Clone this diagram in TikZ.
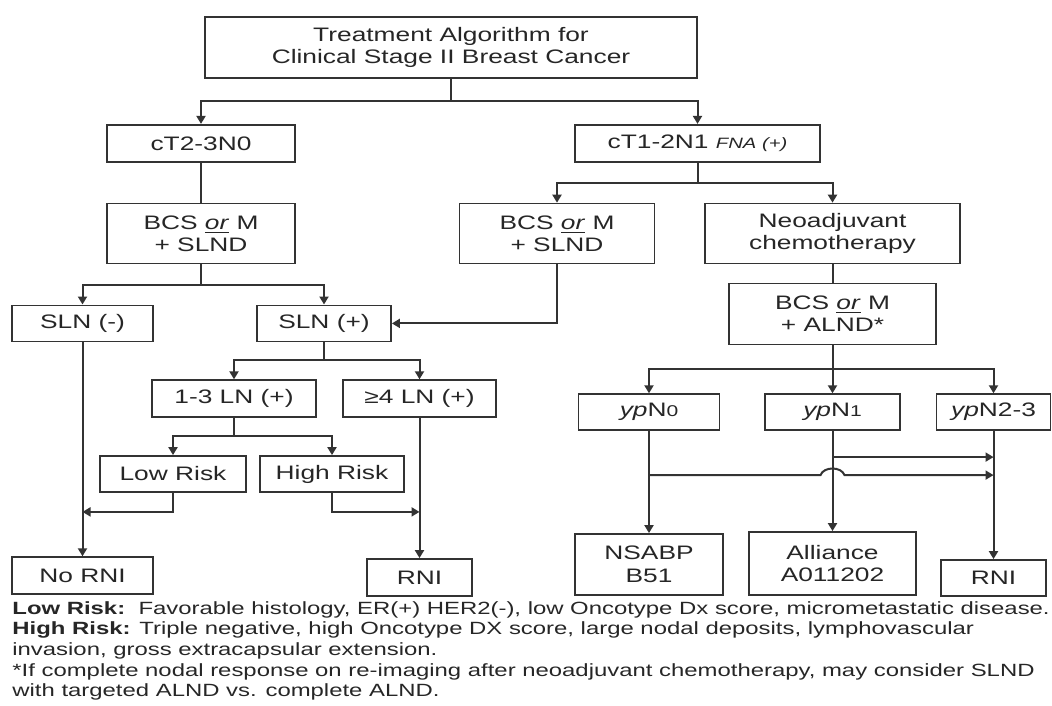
\documentclass[tikz,border=0pt]{standalone}
\usepackage{fontspec}
\setmainfont{Liberation Sans}[FakeStretch=1.35]
\usetikzlibrary{arrows.meta, positioning, calc}
\newcommand{\orul}{\underline{\textit{or}}}
\newcommand{\ypdig}[1]{{\fontsize{7.8}{9}\selectfont #1}}

\begin{document}
\begin{tikzpicture}[
    x=0.5pt, y=0.5pt,
    box/.style={rectangle, draw=black!80, line width=0.9pt, align=center,
                inner sep=1pt, text=black!85,
                font=\fontsize{9.75}{11.25}\selectfont},
    line/.style={line width=1pt, black!80},
    arr/.style={-{Triangle[length=4pt, width=4.5pt]}, line width=1pt, black!80},
    note/.style={align=left, anchor=north west, inner sep=0pt, text=black!85,
                 font=\fontsize{8.85}{10.3}\selectfont}
  ]
  \useasboundingbox (0,0) rectangle (1052,-705);

  \node[box, minimum width=246pt, minimum height=30.5pt] (title) at (451,-47.5)
       {Treatment Algorithm for\\Clinical Stage II Breast Cancer};

  % left branch
  \node[box, minimum width=94pt, minimum height=18.5pt, below=22.5pt of title, xshift=-125pt] (ct23) {cT2-3N0};
  \node[box, minimum width=94pt, minimum height=30pt, below=20pt of ct23] (bcs1) {BCS \orul{} M\\+ SLND};
  \node[box, minimum width=70.5pt, minimum height=18pt, below=20pt of bcs1, xshift=-59.25pt] (slnneg) {SLN (-)};
  \node[box, minimum width=67pt, minimum height=18pt, below=20pt of bcs1, xshift=61.5pt] (slnpos) {SLN (+)};
  \node[box, minimum width=82pt, minimum height=18.5pt, below=18.5pt of slnpos, xshift=-45pt] (ln13) {1-3 LN (+)};
  \node[box, minimum width=76.5pt, minimum height=18.5pt, below=18.5pt of slnpos, xshift=47.75pt] (ln4) {≥4 LN (+)};
  \node[box, minimum width=73pt, minimum height=18pt, below=18.5pt of ln13, xshift=-30.5pt] (low) {Low Risk};
  \node[box, minimum width=72pt, minimum height=18pt, below=18.5pt of ln13, xshift=49pt] (high) {High Risk};
  \node[box, minimum width=70.5pt, minimum height=18.5pt, below=107pt of slnneg] (nornj) {No RNI};
  \node[box, minimum width=52.5pt, minimum height=18.5pt, below=70pt of ln4] (rni1) {RNI};

  % right branch
  \node[box, minimum width=122.5pt, minimum height=18.5pt, below=22.5pt of title, xshift=123.25pt] (ct12)
       {cT1-2N1 {\fontsize{7.5}{9}\selectfont\itshape FNA (+)}};
  \node[box, minimum width=97.5pt, minimum height=30pt, below=20pt of ct12, xshift=-70.25pt] (bcs2) {BCS \orul{} M\\+ SLND};
  \node[box, minimum width=127.5pt, minimum height=30pt, below=20pt of ct12, xshift=67.5pt] (neo) {Neoadjuvant\\chemotherapy};
  \node[box, minimum width=103.5pt, minimum height=30.5pt, below=9pt of neo] (bcs3) {BCS \orul{} M\\+ ALND*};
  \node[box, minimum width=70.5pt, minimum height=18pt, below=24pt of bcs3, xshift=-91.75pt] (ypn0) {\textit{yp}N\ypdig{0}};
  \node[box, minimum width=67.5pt, minimum height=18pt, below=24pt of bcs3] (ypn1) {\textit{yp}N\ypdig{1}};
  \node[box, minimum width=57pt, minimum height=18pt, below=24pt of bcs3, xshift=80.5pt] (ypn23) {\textit{yp}N2-3};
  \node[box, minimum width=74pt, minimum height=30.5pt, below=51pt of ypn0] (nsabp) {NSABP\\B51};
  \node[box, minimum width=83.5pt, minimum height=31.5pt, below=50pt of ypn1] (alliance) {Alliance\\A011202};
  \node[box, minimum width=52.5pt, minimum height=18pt, below=64pt of ypn23] (rni2) {RNI};

  \node[note] (notes) at (12,-601)
       {\textbf{Low Risk:}\ \ Favorable histology, ER(+) HER2(-), low Oncotype Dx score, micrometastatic disease.\\
        \textbf{High Risk:} Triple negative, high Oncotype DX score, large nodal deposits, lymphovascular\\
        invasion, gross extracapsular extension.\\
        *If complete nodal response on re-imaging after neoadjuvant chemotherapy, may consider SLND\\
        with targeted ALND vs. complete ALND.};

  % connectors
  \draw[arr] (title.south) -- ++(0,-22) -| (ct23.north);
  \draw[arr] (title.south) -- ++(0,-22) -| (ct12.north);
  \draw[line] (ct23) -- (bcs1);
  \draw[arr] (bcs1.south) -- ++(0,-20) -| (slnneg.north);
  \draw[arr] (bcs1.south) -- ++(0,-20) -| (slnpos.north);
  \draw[arr] (ct12.south) -- ++(0,-20) -| (bcs2.north);
  \draw[arr] (ct12.south) -- ++(0,-20) -| (neo.north);
  \draw[line] (neo) -- (bcs3);
  \draw[arr] (bcs2.south) |- (slnpos.east);
  \draw[arr] (slnpos.south) -- ++(0,-18) -| (ln13.north);
  \draw[arr] (slnpos.south) -- ++(0,-18) -| (ln4.north);
  \draw[arr] (ln13.south) -- ++(0,-18) -| (low.north);
  \draw[arr] (ln13.south) -- ++(0,-18) -| (high.north);
  \draw[arr] (low.south) -- ++(0,-19) coordinate (lowbend) -- (lowbend -| slnneg);
  \draw[arr] (high.south) -- ++(0,-19) coordinate (highbend) -- (highbend -| ln4);
  \draw[arr] (slnneg) -- (nornj);
  \draw[arr] (ln4) -- (rni1);
  \draw[arr] (bcs3.south) -- ++(0,-24) -| (ypn0.north);
  \draw[arr] (bcs3.south) -- ++(0,-24) -| (ypn1.north);
  \draw[arr] (bcs3.south) -- ++(0,-24) -| (ypn23.north);
  \draw[arr] (ypn0) -- (nsabp);
  \draw[arr] (ypn1) -- (alliance);
  \draw[arr] (ypn23) -- (rni2);
  \draw[arr] (ypn1.south) ++(0,-26) coordinate (n1bend) -- (n1bend -| ypn23);
  \draw[arr] (ypn0.south) ++(0,-44) coordinate (n0bend)
       -- ($(n0bend -| ypn1)+(-12,0)$) to[out=70, in=110] ($(n0bend -| ypn1)+(12,0)$)
       -- (n0bend -| ypn23);
\end{tikzpicture}
\end{document}
